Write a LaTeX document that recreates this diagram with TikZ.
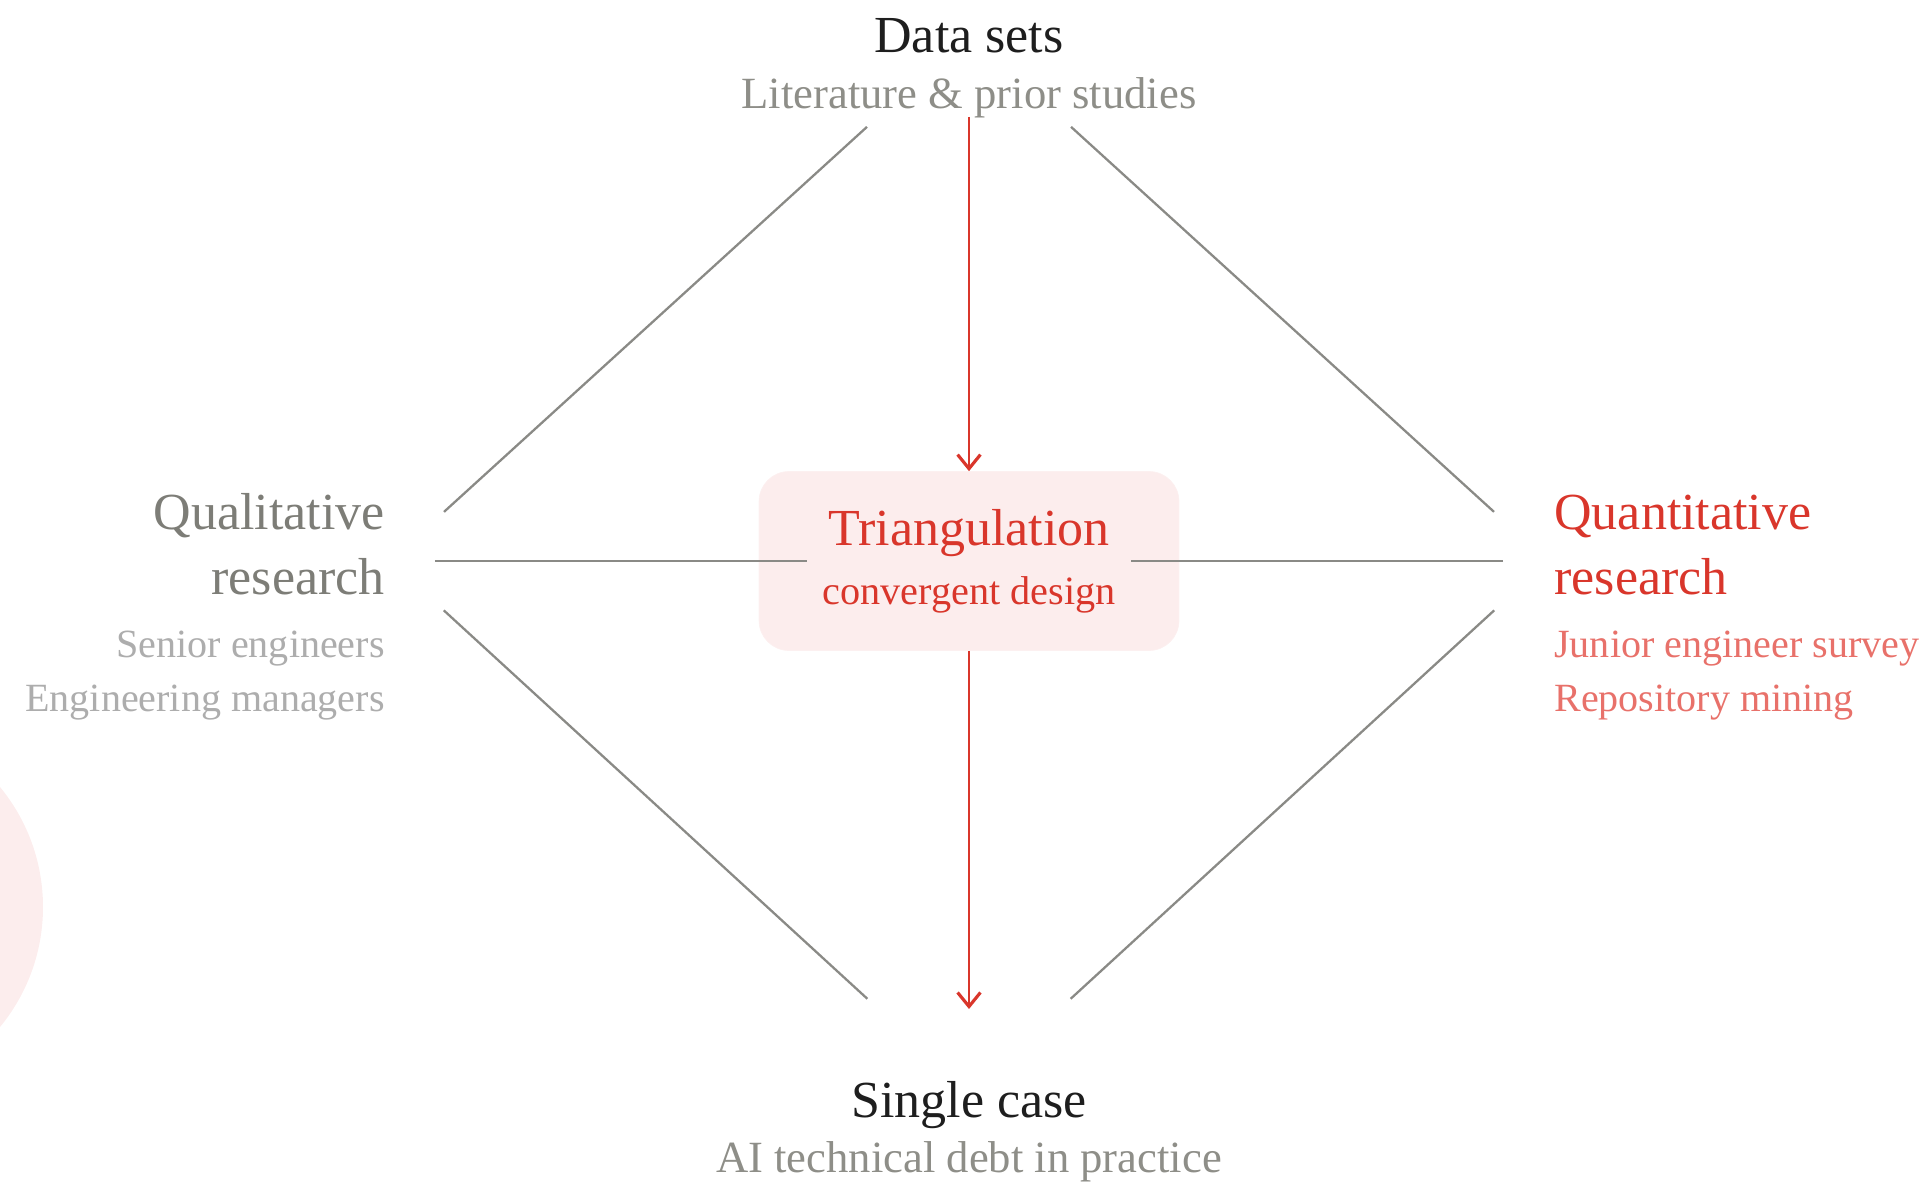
\documentclass[tikz,border=0pt]{standalone}
\usepackage{fontspec}
\setmainfont{Liberation Serif}
\usepackage{xcolor}
\usepackage{tikz}
\usetikzlibrary{arrows.meta, positioning, calc}
\definecolor{inkdark}{HTML}{1E1E1E}
\definecolor{stonegrey}{HTML}{7D7D77}
\definecolor{mistgrey}{HTML}{8E8E88}
\definecolor{palegrey}{HTML}{ADADAD}
\definecolor{linegrey}{HTML}{8A8A86}
\definecolor{signalred}{HTML}{D9362B}
\definecolor{softred}{HTML}{E8716A}
\definecolor{blushpink}{HTML}{FCEDED}
\tikzset{
    title/.style={inner sep=0pt, text=inkdark, font=\fontsize{29.6}{37}\selectfont},
    caption/.style={inner sep=0pt, text=mistgrey, font=\fontsize{25.4}{30}\selectfont},
    note/.style={inner sep=0pt, font=\fontsize{22.8}{30.2}\selectfont},
    hub/.style={rectangle, rounded corners=0.6cm, fill=blushpink, draw=blushpink!70!signalred!20, thin, minimum width=8.4cm, minimum height=3.58cm, align=center, text=signalred, font=\fontsize{29.6}{33.6}\selectfont},
    spoke/.style={linegrey, line width=1.3pt},
    arrow/.style={signalred, line width=1.5pt, -{Straight Barb[length=8pt, width=13pt, line width=1.8pt]}}
}

\begin{document}
\begin{tikzpicture}[x=0.02cm, y=-0.02cm]
    \useasboundingbox (0,0) rectangle (1929,1184);

    % Background disc at the left edge
    \fill[blushpink] (-146,907) circle (189);

    % Corners of the diamond
    \coordinate (top) at (969,34);
    \coordinate (left) at (390,561);
    \coordinate (right) at (1548,561);
    \coordinate (bottom) at (969,1092);

    % Centre box
    \node[hub] (tri) at (969,561) {Triangulation\\{\fontsize{22.9}{33.6}\selectfont convergent design}};

    % Labels (base is the last line)
    \node[title, anchor=base] (data) at (969,52) {Data sets};
    \node[caption, anchor=base] (lit) at (969,108) {Literature \& prior studies};
    \node[title, anchor=base] (single) at (969,1117) {Single case};
    \node[caption, anchor=base] (debt) at (969,1172) {AI technical debt in practice};
    \node[title, text=stonegrey, align=right, anchor=base east] (qual) at (385,594) {Qualitative\\research};
    \node[note, text=palegrey, align=right, anchor=base east] (qualsub) at (385,711) {Senior engineers\\Engineering managers};
    \node[title, text=signalred, align=left, anchor=base west] (quant) at (1554,594) {Quantitative\\research};
    \node[note, text=softred, align=left, anchor=base west] (quantsub) at (1554,711) {Junior engineer survey\\Repository mining};

    % Diamond edges
    \draw[spoke, shorten <=2.76cm, shorten >=1.46cm] (top) -- (left);
    \draw[spoke, shorten <=2.76cm, shorten >=1.46cm] (top) -- (right);
    \draw[spoke, shorten <=1.46cm, shorten >=2.76cm] (left) -- (bottom);
    \draw[spoke, shorten <=1.46cm, shorten >=2.76cm] (right) -- (bottom);
    \draw[spoke, shorten <=0.9cm, shorten >=3.24cm] (left) -- (tri.center);
    \draw[spoke, shorten <=0.9cm, shorten >=3.24cm] (right) -- (tri.center);

    % Flow through the centre
    \draw[arrow, shorten <=1.66cm] (top) -- (tri);
    \draw[arrow, shorten >=1.66cm] (tri) -- (bottom);
\end{tikzpicture}
\end{document}
